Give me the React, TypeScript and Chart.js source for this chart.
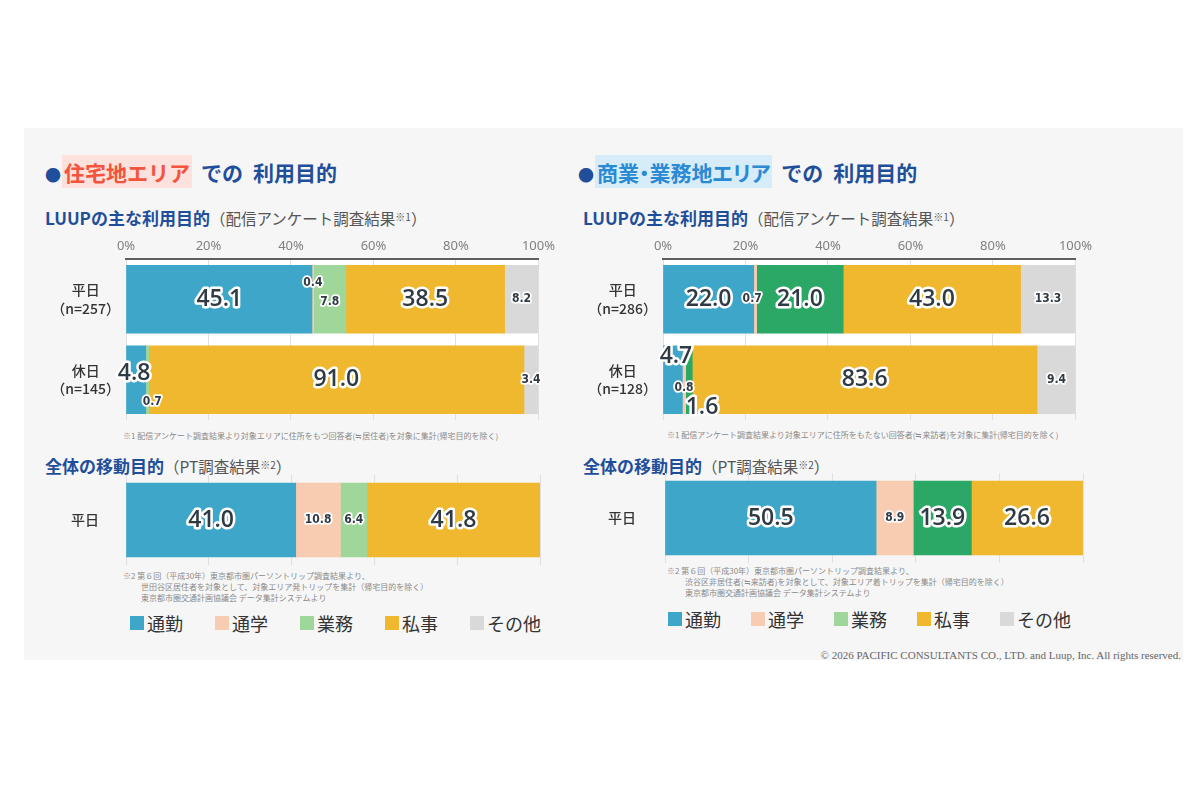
import React, { useEffect, useRef } from 'react';
import { Chart, registerables } from 'chart.js';
Chart.register(...registerables);

// ---------- data ----------
const purposes = ['通勤', '通学', '業務', '私事', 'その他'];
const resSurveyRows = [['平日', '（n=257）'], ['休日', '（n=145）']];
const comSurveyRows = [['平日', '（n=286）'], ['休日', '（n=128）']];
const ptRows = ['平日'];
const percentTicks = [0, 20, 40, 60, 80, 100];

// 住宅地エリア – LUUP survey [平日, 休日]
const resSurveyCommute = [45.1, 4.8];
const resSurveySchool = [0.4, 0];
const resSurveyBusiness = [7.8, 0.7];
const resSurveyPrivate = [38.5, 91.0];
const resSurveyOther = [8.2, 3.4];

// 商業・業務地エリア – LUUP survey [平日, 休日]
const comSurveyCommute = [22.0, 4.7];
const comSurveySchool = [0.7, 0.8];
const comSurveyBusiness = [21.0, 1.6];
const comSurveyPrivate = [43.0, 83.6];
const comSurveyOther = [13.3, 9.4];

// PT survey [平日]
const resPtCommute = [41.0];
const resPtSchool = [10.8];
const resPtBusiness = [6.4];
const resPtPrivate = [41.8];
const resPtOther = [0];

const comPtCommute = [50.5];
const comPtSchool = [8.9];
const comPtBusiness = [13.9];
const comPtPrivate = [26.6];
const comPtOther = [0];

// ---------- styles ----------
const C_COMMUTE = '#3ea6c8';
const C_SCHOOL = '#f8ccb0';
const C_BUSINESS_LIGHT = '#9fd79b';
const C_BUSINESS_DARK = '#2ba866';
const C_PRIVATE = '#f0b82f';
const C_OTHER = '#d9d9d9';
const NAVY = '#1f4e9a';
const JP = '"Noto Sans CJK JP", "Noto Sans", sans-serif';
const BIG_FONT = '600 23px "Open Sans", "Noto Sans", sans-serif';
const SMALL_FONT = 'bold 12px "Liberation Sans Narrow", "DejaVu Sans Condensed", sans-serif';

type Override = { big?: boolean; dx?: number; dy?: number };

const resSurveyLabelTweaks: Record<string, Override> = {
  '1-0': { dy: -16 },
  '2-0': { dy: 3 },
  '0-1': { big: true, dx: -2, dy: -6 },
  '2-1': { dx: 5, dy: 22 },
};
const comSurveyLabelTweaks: Record<string, Override> = {
  '1-0': { dx: -3 },
  '0-1': { big: true, dx: 3, dy: -23 },
  '1-1': { dy: 8 },
  '2-1': { big: true, dx: 13, dy: 28 },
};

const valueLabelPlugin = {
  id: 'valueLabels',
  afterDatasetsDraw(chart: any, _args: any, opts: any) {
    const ctx = chart.ctx;
    const tweaks = (opts && opts.tweaks) || {};
    ctx.save();
    ctx.textAlign = 'center';
    ctx.textBaseline = 'middle';
    ctx.lineJoin = 'round';
    chart.data.datasets.forEach((ds: any, di: number) => {
      const meta = chart.getDatasetMeta(di);
      meta.data.forEach((bar: any, i: number) => {
        const v = ds.data[i];
        if (!v) return;
        const t: Override = tweaks[`${di}-${i}`] || {};
        const big = t.big !== undefined ? t.big : v >= 13.5;
        const p = bar.getProps(['x', 'y', 'base'], true);
        const cx = (p.x + p.base) / 2 + (t.dx || 0);
        const cy = p.y + (t.dy || 0);
        const text = v.toFixed(1);
        ctx.font = big ? BIG_FONT : SMALL_FONT;
        ctx.strokeStyle = '#ffffff';
        ctx.lineWidth = big ? 5 : 3.5;
        ctx.strokeText(text, cx, cy);
        ctx.fillStyle = '#2f3a44';
        ctx.fillText(text, cx, cy);
      });
    });
    ctx.restore();
  },
};

const areaFillPlugin = {
  id: 'areaFill',
  beforeDraw(chart: any, _args: any, opts: any) {
    if (!opts || !opts.color) return;
    const a = chart.chartArea;
    const ctx = chart.ctx;
    ctx.save();
    ctx.fillStyle = opts.color;
    ctx.fillRect(a.left, a.top, a.right - a.left, a.bottom - a.top - (opts.trimBottom || 0));
    ctx.restore();
  },
};

type ChartSpec = {
  left: number;
  top: number;
  width: number;
  height: number;
  rows: any[];
  series: number[][];
  colors: string[];
  yAxisWidth: number;
  yPadding: number;
  xAxisHeight: number;
  showTicks: boolean;
  barThickness: number;
  padRight: number;
  tweaks?: Record<string, Override>;
  fill?: string;
};

function BarChart({ spec }: { spec: ChartSpec }) {
  const ref = useRef<HTMLCanvasElement | null>(null);
  useEffect(() => {
    if (!ref.current) return;
    const chart = new Chart(ref.current, {
      type: 'bar',
      data: {
        labels: spec.rows,
        datasets: purposes.map((p, k) => ({
          label: p,
          data: spec.series[k],
          backgroundColor: spec.colors[k],
          borderWidth: 0,
          barThickness: spec.barThickness,
        })),
      },
      options: {
        indexAxis: 'y',
        responsive: false,
        animation: false,
        events: [],
        layout: { padding: { left: 0, right: spec.padRight, top: 0, bottom: 0 } },
        plugins: {
          legend: { display: false },
          tooltip: { enabled: false },
          valueLabels: { tweaks: spec.tweaks || {} },
          areaFill: { color: spec.fill, trimBottom: 6 },
        } as any,
        scales: {
          x: {
            type: 'linear',
            stacked: true,
            position: spec.showTicks ? 'top' : 'bottom',
            min: 0,
            max: 100,
            afterBuildTicks: (s: any) => {
              s.ticks = percentTicks.map((v) => ({ value: v }));
            },
            afterFit: (s: any) => {
              s.height = spec.xAxisHeight;
            },
            grid: { color: '#e0e0e0', lineWidth: 1, drawTicks: false },
            border: spec.showTicks
              ? { display: true, color: '#5f5f5f', width: 2 }
              : { display: false },
            ticks: {
              display: spec.showTicks,
              padding: 5,
              color: '#808080',
              font: { family: '"Noto Sans", sans-serif', size: 13 },
              callback: (v: any) => `${v}%`,
            },
          },
          y: {
            type: 'category',
            stacked: true,
            afterFit: (s: any) => {
              s.width = spec.yAxisWidth;
              s.paddingTop = 0;
              s.paddingBottom = 0;
            },
            grid: { display: false, drawTicks: false },
            border: { display: false },
            ticks: {
              crossAlign: 'center',
              padding: spec.yPadding,
              color: '#333333',
              font: { family: JP, size: 14, weight: '500', lineHeight: 1.3 },
            },
          },
        },
      },
      plugins: [areaFillPlugin, valueLabelPlugin],
    } as any);
    return () => chart.destroy();
  }, []);
  return (
    <canvas
      ref={ref}
      width={spec.width}
      height={spec.height}
      style={{ position: 'absolute', left: spec.left, top: spec.top, width: spec.width, height: spec.height }}
    />
  );
}

const resColors = [C_COMMUTE, C_SCHOOL, C_BUSINESS_LIGHT, C_PRIVATE, C_OTHER];
const comColors = [C_COMMUTE, C_SCHOOL, C_BUSINESS_DARK, C_PRIVATE, C_OTHER];

const specs: ChartSpec[] = [
  {
    left: 30, top: 225, width: 530, height: 195,
    rows: resSurveyRows,
    series: [resSurveyCommute, resSurveySchool, resSurveyBusiness, resSurveyPrivate, resSurveyOther],
    colors: resColors, yAxisWidth: 96, yPadding: 6, xAxisHeight: 34, showTicks: true,
    barThickness: 68, padRight: 20, tweaks: resSurveyLabelTweaks, fill: '#ffffff',
  },
  {
    left: 568, top: 225, width: 529, height: 195,
    rows: comSurveyRows,
    series: [comSurveyCommute, comSurveySchool, comSurveyBusiness, comSurveyPrivate, comSurveyOther],
    colors: comColors, yAxisWidth: 95, yPadding: 6, xAxisHeight: 34, showTicks: true,
    barThickness: 68, padRight: 20, tweaks: comSurveyLabelTweaks, fill: '#ffffff',
  },
  {
    left: 30, top: 475, width: 530, height: 90,
    rows: ptRows,
    series: [resPtCommute, resPtSchool, resPtBusiness, resPtPrivate, resPtOther],
    colors: resColors, yAxisWidth: 96, yPadding: 27, xAxisHeight: 0, showTicks: false,
    barThickness: 74, padRight: 20,
  },
  {
    left: 568, top: 473, width: 535, height: 90,
    rows: ptRows,
    series: [comPtCommute, comPtSchool, comPtBusiness, comPtPrivate, comPtOther],
    colors: comColors, yAxisWidth: 97, yPadding: 29, xAxisHeight: 0, showTicks: false,
    barThickness: 74, padRight: 20,
  },
];

const legendColors = [C_COMMUTE, C_SCHOOL, C_BUSINESS_LIGHT, C_PRIVATE, C_OTHER];

function Legend({ left, centerY, step }: { left: number; centerY: number; step: number }) {
  return (
    <>
      {purposes.map((p, i) => (
        <div
          key={p}
          style={{
            position: 'absolute', left: left + i * step, top: centerY - 13, height: 26,
            display: 'flex', alignItems: 'center', fontFamily: JP, fontSize: 18, color: '#333',
            whiteSpace: 'nowrap',
          }}
        >
          <span style={{ display: 'inline-block', width: 14, height: 14, background: legendColors[i], marginRight: 3 }} />
          <span>{p}</span>
        </div>
      ))}
    </>
  );
}

function Title({ left, highlight, hlColor, hlBg, palt }: { left: number; highlight: string; hlColor: string; hlBg: string; palt?: boolean }) {
  return (
    <div style={{ position: 'absolute', left, top: 157, height: 30, lineHeight: '30px', fontFamily: JP, fontSize: 21, fontWeight: 700, color: NAVY, whiteSpace: 'nowrap' }}>
      <span style={{ fontSize: 16, marginRight: 1 }}>●</span>
      <span style={{ background: hlBg, color: hlColor, padding: '2px 2px 1px 2px', fontFeatureSettings: palt ? '"palt"' : 'normal' }}>{highlight}</span>
      <span style={{ marginLeft: 9 }}>での</span>
      <span style={{ marginLeft: 10 }}>利用目的</span>
    </div>
  );
}

function SubTitle({ left, centerY, main, sub, mark }: { left: number; centerY: number; main: string; sub: string; mark: string }) {
  return (
    <div style={{ position: 'absolute', left, top: centerY - 13, height: 26, lineHeight: '26px', fontFamily: JP, whiteSpace: 'nowrap' }}>
      <span style={{ fontSize: 17, fontWeight: 700, color: NAVY }}>{main}</span>
      <span style={{ fontSize: 15.5, color: '#555' }}>
        （{sub}
        <span style={{ fontSize: 10, verticalAlign: 4 }}>{mark}</span>
        ）
      </span>
    </div>
  );
}

function Note({ left, top, lines }: { left: number; top: number; lines: string[] }) {
  return (
    <div style={{ position: 'absolute', left, top, fontFamily: JP, fontSize: 8, lineHeight: '11px', color: '#8a8a8a', whiteSpace: 'nowrap' }}>
      {lines.map((l, i) => (
        <div key={i} style={{ paddingLeft: i > 0 && lines.length > 1 ? 18 : 0 }}>{l}</div>
      ))}
    </div>
  );
}

export default function App() {
  return (
    <div style={{ position: 'absolute', left: 0, top: 0, width: 1199, height: 800, background: '#ffffff', overflow: 'hidden' }}>
      <div style={{ position: 'absolute', left: 24, top: 128, width: 1159, height: 532, background: '#f6f6f6' }} />

      <Title left={45} highlight="住宅地エリア" hlColor="#f2543d" hlBg="#fde1dc" />
      <Title left={578} highlight="商業・業務地エリア" hlColor="#2a8ad4" hlBg="#d7ecf9" palt />

      <SubTitle left={45} centerY={217} main="LUUPの主な利用目的" sub="配信アンケート調査結果" mark="※1" />
      <SubTitle left={583} centerY={217} main="LUUPの主な利用目的" sub="配信アンケート調査結果" mark="※1" />

      <Note left={123} top={430} lines={['※1 配信アンケート調査結果より対象エリアに住所をもつ回答者(≒居住者)を対象に集計(帰宅目的を除く)']} />
      <Note left={667} top={429} lines={['※1 配信アンケート調査結果より対象エリアに住所をもたない回答者(≒来訪者)を対象に集計(帰宅目的を除く)']} />

      <SubTitle left={45} centerY={465} main="全体の移動目的" sub="PT調査結果" mark="※2" />
      <SubTitle left={583} centerY={465} main="全体の移動目的" sub="PT調査結果" mark="※2" />

      <Note
        left={123}
        top={570}
        lines={[
          '※2 第６回（平成30年）東京都市圏パーソントリップ調査結果より、',
          '世田谷区居住者を対象として、対象エリア発トリップを集計（帰宅目的を除く）',
          '東京都市圏交通計画協議会 データ集計システムより',
        ]}
      />
      <Note
        left={667}
        top={565}
        lines={[
          '※2 第６回（平成30年）東京都市圏パーソントリップ調査結果より、',
          '渋谷区非居住者(≒来訪者)を対象として、対象エリア着トリップを集計（帰宅目的を除く）',
          '東京都市圏交通計画協議会 データ集計システムより',
        ]}
      />

      {specs.map((s, i) => (
        <BarChart key={i} spec={s} />
      ))}

      <Legend left={130} centerY={623} step={85} />
      <Legend left={668} centerY={619} step={83} />

      <div style={{ position: 'absolute', right: 18, top: 648, lineHeight: '14px', fontFamily: '"Liberation Serif", serif', fontSize: 11, color: '#666', whiteSpace: 'nowrap' }}>
        © 2026 PACIFIC CONSULTANTS CO., LTD. and Luup, Inc. All rights reserved.
      </div>
    </div>
  );
}
